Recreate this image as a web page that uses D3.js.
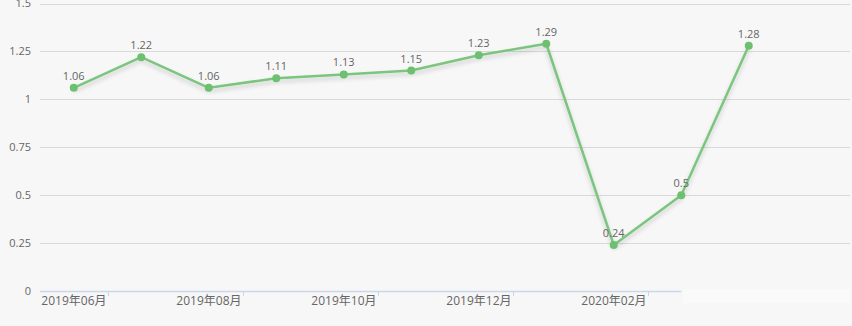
<!DOCTYPE html>
<html>
<head>
<meta charset="utf-8">
<script src="https://cdn.jsdelivr.net/npm/d3@7"></script>
<style>
  html, body { margin: 0; padding: 0; background: #f7f7f7; }
  svg { display: block; }
  text { font-family: "Open Sans", "Noto Sans CJK SC", sans-serif; font-size: 11px; fill: #666; }
  .xlab { font-size: 12px; }
</style>
</head>
<body>
<div id="chart"></div>
<script>
const months = ["2019年06月", "2019年07月", "2019年08月", "2019年09月", "2019年10月", "2019年11月",
                "2019年12月", "2020年01月", "2020年02月", "2020年03月", "2020年04月"];
const values = [1.06, 1.22, 1.06, 1.11, 1.13, 1.15, 1.23, 1.29, 0.24, 0.5, 1.28];
const yTicks = [0, 0.25, 0.5, 0.75, 1, 1.25, 1.5];

const width = 852, height = 326;
const left = 40, bandW = 67.5;
const svg = d3.select("#chart").append("svg").attr("width", width).attr("height", height);

const x = d3.scaleBand().domain(months).range([left, left + bandW * months.length]);
const y = d3.scaleLinear().domain([0, 1.5]).range([291, 3.5]);

const defs = svg.append("defs");
const f = defs.append("filter").attr("id", "shadow").attr("x", "-5%").attr("y", "-5%").attr("width", "110%").attr("height", "120%");
f.append("feDropShadow").attr("dx", 0).attr("dy", 3).attr("stdDeviation", 2)
  .attr("flood-color", "#000").attr("flood-opacity", 0.18);

// grid lines
svg.append("g").selectAll("line").data(yTicks.filter(d => d > 0)).join("line")
  .attr("x1", left).attr("x2", 850)
  .attr("y1", d => Math.round(y(d)) + 0.5).attr("y2", d => Math.round(y(d)) + 0.5)
  .attr("stroke", "#d9d9d9").attr("stroke-width", 1);

// y labels
svg.append("g").selectAll("text").data(yTicks).join("text")
  .attr("x", 31).attr("y", d => y(d)).attr("dy", "0.35em")
  .attr("text-anchor", "end").text(d => d);

// x axis line (ends mid-way in the last visible band, rest is covered)
const axisEnd = x(months[9]) + x.bandwidth() / 2;
svg.append("line").attr("x1", left).attr("x2", axisEnd)
  .attr("y1", 291.5).attr("y2", 291.5).attr("stroke", "#ccd6eb").attr("stroke-width", 1.5);

const labelIdx = [0, 2, 4, 6, 8];
const xg = svg.append("g");
xg.selectAll("line").data(labelIdx).join("line")
  .attr("x1", i => Math.round(x(months[i]) + x.bandwidth()) + 0.5)
  .attr("x2", i => Math.round(x(months[i]) + x.bandwidth()) + 0.5)
  .attr("y1", 291).attr("y2", 296).attr("stroke", "#ccd6eb");
xg.selectAll("text").data(labelIdx).join("text")
  .attr("class", "xlab")
  .attr("x", i => x(months[i]) + x.bandwidth() - 1).attr("y", 305)
  .attr("text-anchor", "end").text(i => months[i]);

// faint overlay bottom-right
svg.append("rect").attr("x", axisEnd + 2).attr("y", 289).attr("width", width - axisEnd - 4).attr("height", 14)
  .attr("fill", "#fcfcfc").attr("opacity", 0.6);

// line
const cx = (d, i) => x(months[i]) + x.bandwidth() / 2;
const line = d3.line().x(cx).y(d => y(d));
svg.append("path").datum(values).attr("d", line)
  .attr("fill", "none").attr("stroke", "#7cc57f").attr("stroke-width", 2.5)
  .attr("stroke-linejoin", "round").attr("filter", "url(#shadow)");

svg.append("g").selectAll("circle").data(values).join("circle")
  .attr("cx", cx).attr("cy", d => y(d)).attr("r", 4)
  .attr("fill", "#6cc070");

svg.append("g").selectAll("text").data(values).join("text")
  .attr("x", cx).attr("y", d => y(d) - 8)
  .attr("text-anchor", "middle").text(d => d);
</script>
</body>
</html>
